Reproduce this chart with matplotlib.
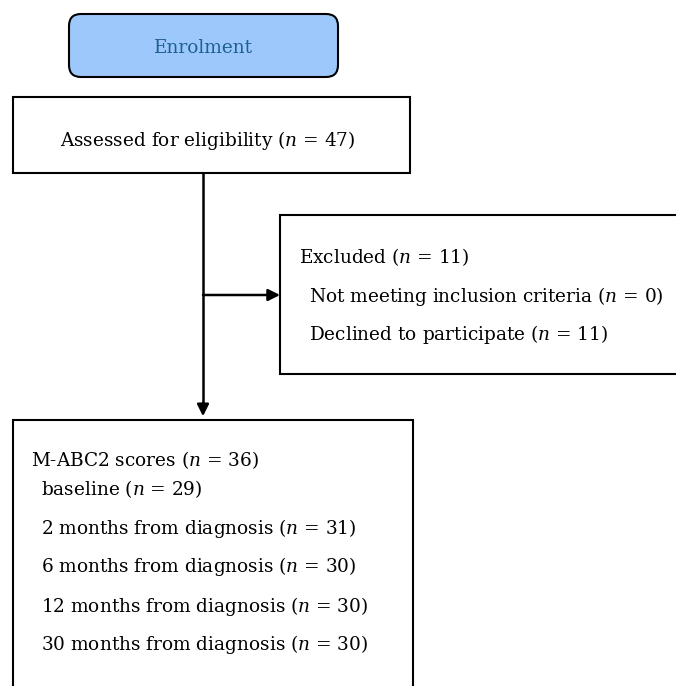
import matplotlib
matplotlib.use("Agg")
import matplotlib.pyplot as plt
from matplotlib.patches import Rectangle, FancyBboxPatch

plt.rcParams['font.family'] = 'DejaVu Serif'
plt.rcParams['mathtext.fontset'] = 'custom'
plt.rcParams['mathtext.rm'] = 'DejaVu Serif'
plt.rcParams['mathtext.it'] = 'DejaVu Serif:italic'

# flowchart content
stage = "Enrolment"
assessed_label = "Assessed for eligibility"
assessed_n = 47
excluded_label = "Excluded"
excluded_n = 11
excluded_reasons = ["Not meeting inclusion criteria", "Declined to participate"]
excluded_reason_n = [0, 11]
scores_label = "M-ABC2 scores"
scores_n = 36
timepoints = ["baseline", "2 months from diagnosis", "6 months from diagnosis",
              "12 months from diagnosis", "30 months from diagnosis"]
timepoint_n = [29, 31, 30, 30, 30]

W, H = 676, 686
fig = plt.figure(figsize=(W / 100, H / 100), dpi=100)
ax = fig.add_axes([0, 0, 1, 1])
ax.set_xlim(0, W)
ax.set_ylim(H, 0)
ax.axis('off')

fs = 13.3
def lab(s, n):
    return s + " ($n$ = " + str(n) + ")"

# enrolment box
ax.add_patch(FancyBboxPatch((69, 14), 269, 63, boxstyle="round,pad=0,rounding_size=12",
                            fc="#9dc8fb", ec="black", lw=1.5))
ax.text(203, 48, stage, ha="center", va="center", fontsize=fs, color="#1f5f92")

# assessed box
ax.add_patch(Rectangle((13, 97), 397, 76, fc="white", ec="black", lw=1.5))
ax.text(208, 140, lab(assessed_label, assessed_n), ha="center", va="center", fontsize=fs)

# excluded box
ax.add_patch(Rectangle((280, 215), 400, 159, fc="white", ec="black", lw=1.5))
ax.text(299, 257, lab(excluded_label, excluded_n), ha="left", va="center", fontsize=fs)
for i, (r, n) in enumerate(zip(excluded_reasons, excluded_reason_n)):
    ax.text(309, 297 + 38 * i, lab(r, n), ha="left", va="center", fontsize=fs)

# scores box
ax.add_patch(Rectangle((13, 420), 400, 280, fc="white", ec="black", lw=1.5))
ax.text(31, 460, lab(scores_label, scores_n), ha="left", va="center", fontsize=fs)
ys = [489, 528, 567, 606, 645]
for y, t, n in zip(ys, timepoints, timepoint_n):
    ax.text(41, y, lab(t, n), ha="left", va="center", fontsize=fs)

# arrows
ax.plot([203, 203], [173, 405], color="black", lw=1.8)
ax.annotate("", xy=(203, 419), xytext=(203, 400),
            arrowprops=dict(arrowstyle="-|>,head_length=0.7,head_width=0.35", color="black", lw=1.8))
ax.annotate("", xy=(280, 295), xytext=(203, 295),
            arrowprops=dict(arrowstyle="-|>,head_length=0.7,head_width=0.35", color="black", lw=1.8,
                            shrinkA=0, shrinkB=0))

fig.savefig("out.png", dpi=100)
